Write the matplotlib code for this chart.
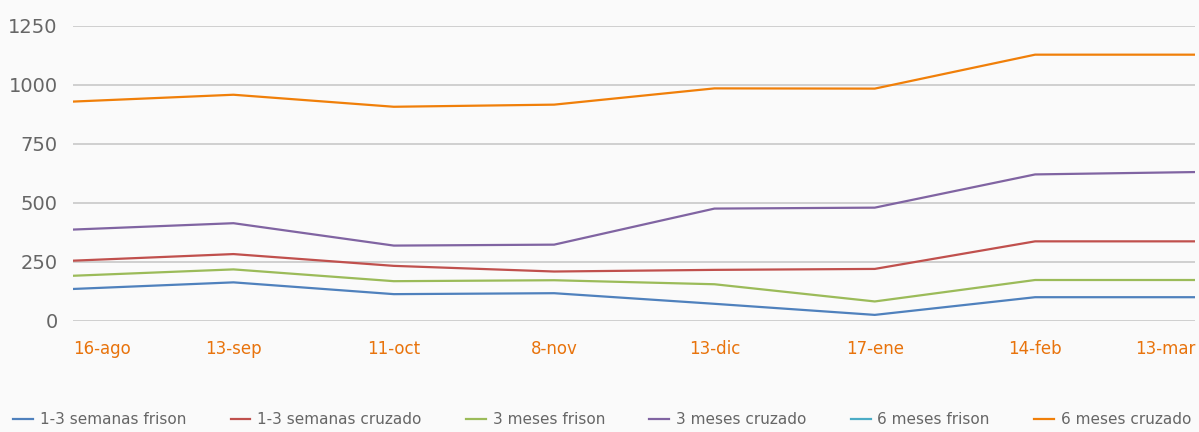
import matplotlib.pyplot as plt
import numpy as np

fechas = ['16-ago', '13-sep', '11-oct', '8-nov', '13-dic', '17-ene', '14-feb', '13-mar']
semanas_frison = [134, 162, 112, 116, 71, 24, 99, 99]
semanas_cruzado = [254, 282, 232, 208, 215, 219, 336, 336]
meses3_frison = [190, 217, 167, 171, 154, 81, 172, 172]
meses3_cruzado = [386, 413, 318, 322, 475, 479, 620, 630]
meses6_frison = [np.nan] * 8
meses6_cruzado = [929, 958, 907, 916, 985, 984, 1128, 1128]

series = [
    ('1-3 semanas frison', semanas_frison, '#4F81BD'),
    ('1-3 semanas cruzado', semanas_cruzado, '#C0504D'),
    ('3 meses frison', meses3_frison, '#9BBB59'),
    ('3 meses cruzado', meses3_cruzado, '#8064A2'),
    ('6 meses frison', meses6_frison, '#4BACC6'),
    ('6 meses cruzado', meses6_cruzado, '#F07F09'),
]

fig = plt.figure(figsize=(11.99, 4.32), dpi=100, facecolor='#FAFAFA')
ax = fig.add_axes([0.061, 0.258, 0.936, 0.682], facecolor='#FAFAFA')

xpos = np.arange(len(fechas))
for name, vals, col in series:
    ax.plot(xpos, vals, color=col, lw=1.6, label=name)

ax.set_xlim(0, len(fechas) - 1)
ax.set_ylim(0, 1250)
ax.set_yticks([0, 250, 500, 750, 1000, 1250])
ax.yaxis.grid(True, color='#C8C8C8', lw=1.2)
ax.set_axisbelow(True)
for s in ax.spines.values():
    s.set_visible(False)
ax.tick_params(axis='both', length=0)
ax.tick_params(axis='y', labelsize=14, labelcolor='#666666', pad=11)

ax.set_xticks(xpos)
ax.set_xticklabels(fechas, fontsize=12, color='#E8730C')
ax.tick_params(axis='x', pad=14)
lbls = ax.get_xticklabels()
lbls[0].set_ha('left')
lbls[-1].set_ha('right')

fig.legend(loc='lower left', bbox_to_anchor=(0.002, -0.014), ncol=6, frameon=False,
           fontsize=11, labelcolor='#666666', handlelength=1.3, handletextpad=0.45,
           columnspacing=2.9, borderaxespad=0.3)

fig.savefig('out.png', dpi=100, facecolor=fig.get_facecolor())
